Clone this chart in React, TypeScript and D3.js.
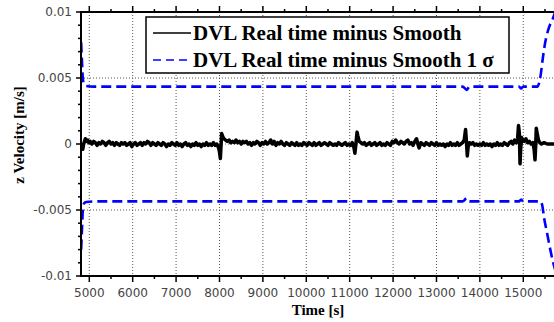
import React from "react";
import * as d3 from "d3";

const W = 554;
const H = 322;

// residual (DVL real time minus smooth), values in 1e-4 m/s
const residualE4: [number, number][] = [
  [4810,-3],[4830,-1],[4850,-4],[4870,0],[4890,2],[4910,4],[4930,2],[4960,3],[4990,1],[5020,2],[5060,0],[5100,2],[5140,1],[5180,-1],[5220,1],[5260,0],[5300,2],[5340,1],[5380,-1],[5420,1],[5460,2],[5500,0],[5540,1],[5580,-1],[5620,1],[5660,0],[5700,-1],[5740,1],[5780,0],[5820,1],[5860,-1],[5900,0],[5940,1],[5980,-2],[6020,0],[6060,1],[6100,-1],[6140,0],[6180,1],[6220,-1],[6260,1],[6300,0],[6340,2],[6380,1],[6420,-1],[6460,1],[6500,0],[6540,-1],[6580,1],[6620,0],[6660,-1],[6700,1],[6740,0],[6780,-2],[6820,0],[6860,-1],[6900,1],[6940,0],[6980,-1],[7020,1],[7060,-1],[7100,0],[7140,-2],[7180,0],[7220,1],[7260,-1],[7300,0],[7340,-2],[7380,0],[7420,-1],[7460,1],[7500,-1],[7540,0],[7580,-2],[7620,0],[7660,-1],[7700,1],[7740,-1],[7780,0],[7820,-1],[7860,1],[7900,-1],[7940,0],[7980,-3],[8000,-6],[8020,-11],[8035,-2],[8050,8],[8070,6],[8100,4],[8140,3],[8180,2],[8220,3],[8260,1],[8300,2],[8340,1],[8380,3],[8420,1],[8460,2],[8500,0],[8540,2],[8580,1],[8620,2],[8660,0],[8700,1],[8740,-1],[8780,1],[8820,0],[8860,2],[8900,1],[8940,-1],[8980,1],[9020,0],[9060,2],[9100,0],[9140,1],[9180,3],[9220,0],[9260,2],[9300,-1],[9340,1],[9380,0],[9420,2],[9460,0],[9500,-1],[9540,1],[9580,0],[9620,-1],[9660,1],[9700,0],[9740,-1],[9780,1],[9820,-1],[9860,0],[9900,-1],[9940,1],[9980,0],[10020,-1],[10060,1],[10100,0],[10140,-1],[10180,1],[10220,-1],[10260,0],[10300,1],[10340,-1],[10380,0],[10420,1],[10460,0],[10500,-1],[10540,1],[10580,0],[10620,-1],[10660,0],[10700,-1],[10740,1],[10780,0],[10820,-1],[10860,0],[10900,1],[10940,-1],[10980,0],[11020,-1],[11060,1],[11100,-3],[11120,-7],[11140,-1],[11170,9],[11190,6],[11220,2],[11260,1],[11300,0],[11340,1],[11380,-1],[11420,0],[11460,1],[11500,-1],[11540,0],[11580,1],[11620,-1],[11660,0],[11700,1],[11740,-1],[11780,0],[11820,-1],[11860,1],[11900,0],[11940,-1],[11980,2],[12020,1],[12060,3],[12100,1],[12140,0],[12180,2],[12220,1],[12260,0],[12300,2],[12340,3],[12380,0],[12420,1],[12460,-1],[12500,2],[12540,4],[12570,0],[12600,-3],[12640,1],[12680,0],[12720,-1],[12760,1],[12800,0],[12840,-1],[12880,1],[12920,0],[12960,-1],[13000,1],[13040,-1],[13080,0],[13120,-1],[13160,0],[13200,-2],[13240,0],[13280,-1],[13320,1],[13360,-1],[13400,0],[13440,-1],[13480,1],[13520,-1],[13560,0],[13600,1],[13640,3],[13670,11],[13690,2],[13710,-9],[13730,-2],[13760,1],[13800,0],[13840,1],[13880,-1],[13920,0],[13960,-1],[14000,0],[14040,-1],[14080,1],[14120,-1],[14160,0],[14200,-1],[14240,0],[14280,-2],[14320,0],[14360,-1],[14400,1],[14440,-1],[14480,0],[14520,-1],[14560,1],[14600,0],[14640,-1],[14680,1],[14720,2],[14760,0],[14800,3],[14840,1],[14870,4],[14890,14],[14910,8],[14925,-15],[14940,-4],[14960,5],[14990,3],[15020,2],[15060,4],[15100,1],[15140,2],[15180,0],[15220,1],[15250,-4],[15270,-12],[15285,-2],[15300,12],[15320,8],[15350,3],[15380,1],[15420,0],[15480,1],[15550,0],[15620,0],[15760,0]
];

const sigmaUpper: [number, number][] = [
  [4812,0.0077],[4835,0.0060],[4850,0.0050],[4880,0.0045],[4930,0.0044],[5100,0.00435],[13600,0.00435],[13700,0.0041],[13760,0.00435],[14900,0.00435],[14950,0.0042],[15000,0.00435],[15330,0.00435],[15370,0.0047],[15400,0.0052],[15450,0.0065],[15500,0.0076],[15580,0.0087],[15680,0.0095],[15760,0.0102]
];

const sigmaLower: [number, number][] = [
  [4812,-0.0080],[4835,-0.0062],[4852,-0.0050],[4880,-0.0045],[4930,-0.0044],[5100,-0.00435],[13600,-0.00435],[13700,-0.0041],[13760,-0.00435],[14900,-0.00435],[14950,-0.0042],[15000,-0.00435],[15400,-0.00435],[15440,-0.0047],[15480,-0.0056],[15540,-0.0066],[15610,-0.0078],[15690,-0.0090],[15760,-0.0098]
];

const xMajorTicks = [5000, 6000, 7000, 8000, 9000, 10000, 11000, 12000, 13000, 14000, 15000];
const xMinorTicks = [5500, 6500, 7500, 8500, 9500, 10500, 11500, 12500, 13500, 14500, 15500];
const yMajorTicks = [-0.01, -0.005, 0, 0.005, 0.01];
const yTickLabels = ["-0.01", "-0.005", "0", "0.005", "0.01"];
const yMinorTicks = [-0.009, -0.008, -0.007, -0.006, -0.004, -0.003, -0.002, -0.001, 0.001, 0.002, 0.003, 0.004, 0.006, 0.007, 0.008, 0.009];
const legendLabels = ["DVL Real time minus Smooth", "DVL Real time minus Smooth 1 σ"];

export default function App() {
  const left = 81, right = 556, top = 12, bottom = 276;
  const x = d3.scaleLinear().domain([4809, 15754]).range([left, right]);
  const y = d3.scaleLinear().domain([-0.01, 0.01]).range([bottom, top]);

  const resLine = d3.line<[number, number]>().x(d => x(d[0])).y(d => y(d[1] * 1e-4));
  const sigLine = d3.line<[number, number]>().x(d => x(d[0])).y(d => y(d[1])).curve(d3.curveMonotoneX);

  const tickFont = "DejaVu Sans, sans-serif";
  const serif = "Liberation Serif, Times New Roman, serif";

  return (
    <div style={{ position: "absolute", left: 0, top: 0 }}>
      <svg width={W} height={H} style={{ display: "block", background: "#fff" }}>
        <defs>
          <clipPath id="plotClip">
            <rect x={left} y={top} width={right - left} height={bottom - top} />
          </clipPath>
        </defs>
        {/* grid */}
        {xMajorTicks.map(t => (
          <line key={"gx" + t} x1={x(t)} x2={x(t)} y1={top} y2={bottom} stroke="#555" strokeWidth={1} strokeDasharray="1,2" />
        ))}
        {[-0.005, 0, 0.005].map(t => (
          <line key={"gy" + t} x1={left} x2={right} y1={y(t)} y2={y(t)} stroke="#555" strokeWidth={1} strokeDasharray="1,2" />
        ))}
        {/* data */}
        <g clipPath="url(#plotClip)">
          <path d={sigLine(sigmaUpper) || ""} fill="none" stroke="#0000ff" strokeWidth={2.6} strokeDasharray="10,5" />
          <path d={sigLine(sigmaLower) || ""} fill="none" stroke="#0000ff" strokeWidth={2.6} strokeDasharray="10,5" />
          <path d={resLine(residualE4) || ""} fill="none" stroke="#000" strokeWidth={3.5} strokeLinejoin="round" />
        </g>
        {/* axes */}
        <line x1={left} x2={right} y1={bottom} y2={bottom} stroke="#000" strokeWidth={2} />
        <line x1={left} x2={right} y1={top} y2={top} stroke="#000" strokeWidth={2} />
        <line x1={left} x2={left} y1={top - 1} y2={bottom + 1} stroke="#000" strokeWidth={2} />
        {xMajorTicks.map(t => (
          <g key={"xt" + t}>
            <line x1={x(t)} x2={x(t)} y1={bottom} y2={bottom + 6} stroke="#000" strokeWidth={1.5} />
            <line x1={x(t)} x2={x(t)} y1={top} y2={top - 6} stroke="#000" strokeWidth={1.5} />
            <text x={x(t)} y={297} textAnchor="middle" fontFamily={tickFont} fontSize={12} fill="#444">{t}</text>
          </g>
        ))}
        {xMinorTicks.map(t => (
          <g key={"xm" + t}>
            <line x1={x(t)} x2={x(t)} y1={bottom} y2={bottom + 3} stroke="#000" strokeWidth={1.5} />
            <line x1={x(t)} x2={x(t)} y1={top} y2={top - 3} stroke="#000" strokeWidth={1.5} />
          </g>
        ))}
        {yMajorTicks.map((t, i) => (
          <g key={"yt" + t}>
            <line x1={left} x2={left - 5} y1={y(t)} y2={y(t)} stroke="#000" strokeWidth={1.5} />
            <text x={72} y={y(t)} dy="0.36em" textAnchor="end" fontFamily={tickFont} fontSize={12} fill="#444">{yTickLabels[i]}</text>
          </g>
        ))}
        {yMinorTicks.map(t => (
          <line key={"ym" + t} x1={left} x2={left - 3} y1={y(t)} y2={y(t)} stroke="#000" strokeWidth={1.5} />
        ))}
        {/* axis titles */}
        <text x={318} y={315} textAnchor="middle" fontFamily={serif} fontWeight="bold" fontSize={15}>Time [s]</text>
        <text transform="translate(24,135) rotate(-90)" textAnchor="middle" fontFamily={serif} fontWeight="bold" fontSize={15}>z Velocity [m/s]</text>
        {/* legend */}
        <rect x={146} y={17} width={363} height={56} fill="#fff" stroke="#000" strokeWidth={1.5} />
        <line x1={153} x2={191} y1={33} y2={33} stroke="#000" strokeWidth={1.5} />
        <line x1={153} x2={191} y1={60} y2={60} stroke="#0000ff" strokeWidth={1.5} strokeDasharray="8,5" />
        <text x={193} y={33} dy="0.33em" fontFamily={serif} fontWeight="bold" fontSize={21}>{legendLabels[0]}</text>
        <text x={193} y={60} dy="0.33em" fontFamily={serif} fontWeight="bold" fontSize={21}>{legendLabels[1]}</text>
      </svg>
    </div>
  );
}
